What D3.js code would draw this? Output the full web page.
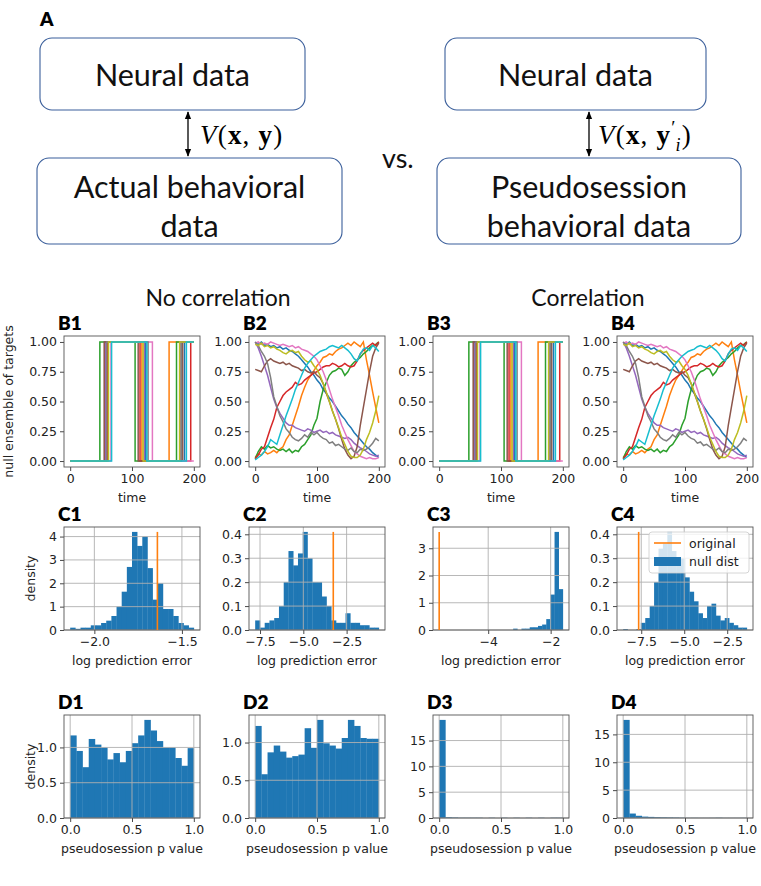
<!DOCTYPE html>
<html><head><meta charset="utf-8">
<script src="https://cdn.jsdelivr.net/npm/d3@7"></script>
<style>body{margin:0;background:#fff} svg{display:block}</style>
</head><body>
<svg id="fig" width="761" height="886"></svg>
<script>
// ================= DATA =================
const traceColors = ["#1f77b4","#ff7f0e","#2ca02c","#d62728","#9467bd","#8c564b","#e377c2","#7f7f7f","#bcbd22","#17becf"];
// B1 / B3 : block-structured targets (time of 1st rise, fall, 2nd rise)
const stepRise1 = [58,56,48,60,57,55,66,59,62,67];
const stepFall1 = [122,116,105,113,120,110,133,126,118,124];
const stepRise2 = [185,160,172,195,178,182,205,180,177,188];
// B2 / B4 : smooth pseudo-session targets, sampled every 5 time steps
const walkBlue   = [0.99,0.98,1.0,0.97,0.98,0.96,0.97,0.95,0.96,0.94,0.95,0.93,0.92,0.9,0.88,0.85,0.82,0.79,0.75,0.72,0.68,0.65,0.6,0.57,0.53,0.5,0.46,0.42,0.38,0.35,0.31,0.28,0.24,0.21,0.18,0.15,0.12,0.1,0.07,0.05,0.03];
const walkOrange = [0.03,0.06,0.05,0.08,0.06,0.07,0.09,0.07,0.1,0.12,0.18,0.22,0.3,0.38,0.46,0.55,0.62,0.68,0.72,0.76,0.8,0.83,0.87,0.88,0.9,0.89,0.92,0.94,0.95,0.97,0.99,0.97,1.0,0.98,0.96,1.0,0.85,0.72,0.58,0.45,0.32];
const walkGreen  = [0.02,0.08,0.12,0.1,0.13,0.11,0.12,0.1,0.09,0.1,0.08,0.1,0.07,0.09,0.08,0.12,0.14,0.18,0.22,0.3,0.36,0.5,0.6,0.66,0.72,0.75,0.76,0.78,0.77,0.72,0.75,0.8,0.83,0.85,0.87,0.9,0.92,0.95,0.97,0.98,1.0];
const walkRed    = [0.02,0.05,0.1,0.12,0.2,0.28,0.35,0.45,0.5,0.55,0.58,0.6,0.62,0.66,0.64,0.65,0.68,0.7,0.72,0.74,0.75,0.77,0.79,0.8,0.8,0.82,0.81,0.79,0.8,0.82,0.8,0.79,0.8,0.84,0.9,0.93,0.95,0.97,0.99,0.97,1.0];
const walkPurple = [1.0,0.95,0.88,0.8,0.72,0.62,0.52,0.45,0.4,0.36,0.32,0.3,0.3,0.28,0.27,0.26,0.25,0.27,0.26,0.24,0.25,0.26,0.24,0.25,0.23,0.24,0.22,0.21,0.2,0.19,0.2,0.18,0.15,0.13,0.11,0.1,0.08,0.06,0.05,0.04,0.05];
const walkBrown  = [0.77,0.76,0.75,0.8,0.84,0.86,0.84,0.83,0.82,0.83,0.81,0.82,0.8,0.79,0.78,0.76,0.77,0.75,0.74,0.75,0.72,0.7,0.65,0.57,0.5,0.42,0.35,0.27,0.18,0.1,0.05,0.02,0.04,0.12,0.3,0.45,0.6,0.75,0.88,0.95,0.99];
const walkPink   = [0.99,1.0,0.98,0.99,0.98,1.0,0.99,0.98,0.97,0.98,0.97,0.96,0.97,0.95,0.96,0.94,0.93,0.92,0.9,0.88,0.85,0.8,0.75,0.68,0.6,0.52,0.45,0.38,0.3,0.24,0.18,0.13,0.08,0.06,0.04,0.03,0.02,0.03,0.02,0.02,0.03];
const walkGray   = [1.0,0.97,0.92,0.88,0.82,0.7,0.54,0.46,0.38,0.33,0.27,0.24,0.2,0.18,0.17,0.19,0.22,0.2,0.24,0.22,0.24,0.21,0.19,0.18,0.15,0.16,0.13,0.14,0.12,0.1,0.09,0.11,0.08,0.07,0.1,0.09,0.1,0.12,0.15,0.19,0.17];
const walkOlive  = [0.98,0.97,0.99,0.96,0.97,0.95,0.96,0.94,0.93,0.91,0.9,0.92,0.93,0.91,0.92,0.88,0.85,0.83,0.84,0.8,0.77,0.72,0.65,0.58,0.5,0.42,0.35,0.28,0.2,0.14,0.08,0.04,0.03,0.03,0.05,0.1,0.18,0.24,0.32,0.42,0.55];
const walkCyan   = [0.01,0.03,0.05,0.08,0.12,0.18,0.16,0.14,0.22,0.3,0.38,0.45,0.52,0.6,0.66,0.72,0.78,0.82,0.85,0.88,0.9,0.92,0.93,0.94,0.96,0.97,0.96,0.95,0.97,0.95,0.93,0.9,0.86,0.84,0.9,0.94,0.95,0.93,0.97,0.95,0.92];
const walks = [walkBlue,walkOrange,walkGreen,walkRed,walkPurple,walkBrown,walkPink,walkGray,walkOlive,walkCyan];

// C row: null distributions of log prediction error (density) + original value
const c1Range = [-2.138, -1.432];
const c1Density = [0.1,0.05,0.1,0.1,0.2,0.2,0.3,0.4,0.6,1.0,1.64,2.7,4.2,3.6,4.0,2.65,1.3,2.0,0.9,0.9,0.6,0.3,0.2,0.1];
const c1Original = -1.64;
const c2Range = [-7.78, -0.64];
const c2Density = [0.04,0.01,0.03,0.04,0.05,0.1,0.2,0.33,0.27,0.32,0.41,0.3,0.2,0.2,0.14,0.1,0.04,0.03,0.03,0.07,0.03,0.03,0.02,0.02,0.01,0.01];
const c2Original = -3.27;
const c3Range = [-3.2, -1.61];
const c3Density = [0.05,0,0.05,0.05,0.1,0.1,0.15,0.2,0.4,1.3,3.6,1.5];
const c3Original = -5.57;
const c4Range = [-8.55, -1.36];
const c4Density = [0.004,0,0,0.004,0.03,0.05,0.1,0.2,0.34,0.36,0.41,0.33,0.28,0.3,0.22,0.16,0.12,0.07,0.05,0.1,0.11,0.06,0.04,0.05,0.03,0.02,0.01,0.01];
const c4Original = -7.65;

// D row: pseudosession p values (density, 20 bins on [0,1])
const pRange = [0, 1];
const d1Density = [1.17,0.95,0.72,1.12,1.04,1.0,0.83,0.92,0.79,0.95,1.06,1.17,1.39,1.24,1.09,1.0,1.0,0.85,0.74,0.99];
const d2Density = [1.22,0.58,0.87,0.96,0.88,0.8,0.82,0.84,1.19,0.93,1.3,0.99,0.96,0.92,1.06,1.3,1.22,1.06,1.05,1.05];
const d3Density = [19.0,0.15,0.1,0.05,0.05,0.05,0.05,0.0,0.05,0.0,0.05,0.0,0.05,0.0,0.05,0.0,0.05,0.0,0.05,0.05];
const d4Density = [17.6,0.8,0.4,0.25,0.2,0.15,0.12,0.1,0.08,0.05,0.02,0.03,0.02,0.02,0.03,0.05,0.02,0.02,0.02,0.03];

// tick labels
const bXTicks = [0,100,200];
const bYTicks = [0,0.25,0.5,0.75,1.0];
const c1XTicks = [-2.0,-1.5], c1YTicks = [0,1,2,3,4];
const c2XTicks = [-7.5,-5.0,-2.5], c2YTicks = [0,0.1,0.2,0.3,0.4];
const c3XTicks = [-4,-2], c3YTicks = [0,1,2,3];
const c4XTicks = [-7.5,-5.0,-2.5], c4YTicks = [0,0.1,0.2,0.3,0.4];
const dXTicks = [0,0.5,1.0];
const d12YTicks = [0,0.5,1.0], d34YTicks = [0,5,10,15];

// ================= DRAWING =================
const svg = d3.select("#fig");
const TF = "DejaVu Sans", TS = 12.5;
const HF = "Lato";
const axLeft = [64, 249, 433, 617], axW = 136;
const rowB = {top:336, h:131}, rowC = {top:527, h:103}, rowD = {top:715, h:103};
const BLUE = "#1f77b4", ORANGE = "#ff7f0e";

// ---------- Panel A diagram ----------
svg.append("text").attr("x",40).attr("y",26).attr("font-family",HF).attr("font-weight",800).attr("font-size",19).text("A");
const boxStroke = "#3b5f9b";
function box(x,y,w,h,lines,cy){
  svg.append("rect").attr("x",x).attr("y",y).attr("width",w).attr("height",h).attr("rx",12).attr("ry",12)
    .attr("fill","#fff").attr("stroke",boxStroke).attr("stroke-width",1.1);
  lines.forEach((t,i)=>svg.append("text").attr("x",x+w/2).attr("y",cy[i]).attr("text-anchor","middle")
    .attr("font-family",HF).attr("font-size",30.5).attr("fill","#111").text(t));
}
box(40,38,265,72,["Neural data"],[86]);
box(37,158,305,86,["Actual behavioral","data"],[198,237]);
box(445,38,261,72,["Neural data"],[86]);
box(437,158,304,86,["Pseudosession","behavioral data"],[198,237]);

const defs = svg.append("defs");
defs.append("marker").attr("id","ah").attr("viewBox","0 0 10 10").attr("refX",9).attr("refY",5)
  .attr("markerWidth",6).attr("markerHeight",6).attr("orient","auto-start-reverse")
  .append("path").attr("d","M0,1 L10,5 L0,9 z").attr("fill","#000");
[188,589].forEach(x=>{
  svg.append("line").attr("x1",x).attr("x2",x).attr("y1",112).attr("y2",156).attr("stroke","#000").attr("stroke-width",1.3)
    .attr("marker-start","url(#ah)").attr("marker-end","url(#ah)");
});
const MF = "Liberation Serif";
function mathV(x,y,prime){
  const t = svg.append("text").attr("x",x).attr("y",y).attr("font-family",MF).attr("font-size",27).attr("fill","#000").attr("letter-spacing",1.2);
  t.append("tspan").attr("font-style","italic").text("V");
  t.append("tspan").text("(");
  t.append("tspan").attr("font-weight","bold").text("x");
  t.append("tspan").text(", ");
  t.append("tspan").attr("font-weight","bold").text("y");
  if(prime){
    t.append("tspan").attr("font-size",19).attr("dy",-10).text("′");
    t.append("tspan").attr("font-size",18).attr("font-style","italic").attr("dx",-1).attr("dy",17).text("i");
    t.append("tspan").attr("dy",-7).text(")");
  } else t.append("tspan").text(")");
}
mathV(200,144,false);
mathV(598,144,true);
svg.append("text").attr("x",382).attr("y",168).attr("font-family",HF).attr("font-size",27).attr("fill","#111").text("vs.");

svg.append("text").attr("x",218).attr("y",306).attr("text-anchor","middle").attr("font-family",HF).attr("font-size",23).attr("fill","#111").text("No correlation");
svg.append("text").attr("x",588).attr("y",306).attr("text-anchor","middle").attr("font-family",HF).attr("font-size",23).attr("fill","#111").text("Correlation");

// ---------- helpers ----------
function styleAxis(g){
  g.select(".domain").remove();
  g.selectAll(".tick line").attr("stroke","#333").attr("stroke-width",0.9);
  g.selectAll(".tick text").attr("font-family",TF).attr("font-size",TS).attr("fill","#222");
}
function panel(col,row,label){
  const g = svg.append("g").attr("transform",`translate(${axLeft[col]},${row.top})`);
  svg.append("text").attr("x",axLeft[col]-6).attr("y",row.top-6).attr("font-family",HF).attr("font-weight",800)
    .attr("font-size",19).attr("fill","#000").text(label);
  return g;
}
function finish(g,x,y,xt,yt,xfmt,yfmt,h,grid,xlabel,ylabel){
  if(grid){
    const gg = g.append("g");
    xt.forEach(v=>gg.append("line").attr("x1",x(v)).attr("x2",x(v)).attr("y1",0).attr("y2",h).attr("stroke","#b0b0b0").attr("stroke-width",0.9));
    yt.forEach(v=>gg.append("line").attr("x1",0).attr("x2",axW).attr("y1",y(v)).attr("y2",y(v)).attr("stroke","#b0b0b0").attr("stroke-width",0.9));
  }
  g.append("g").attr("transform",`translate(0,${h})`).call(d3.axisBottom(x).tickValues(xt).tickFormat(xfmt).tickSize(4).tickPadding(3)).call(styleAxis);
  g.append("g").call(d3.axisLeft(y).tickValues(yt).tickFormat(yfmt).tickSize(4).tickPadding(3)).call(styleAxis);
  g.append("rect").attr("width",axW).attr("height",h).attr("fill","none").attr("stroke","#555").attr("stroke-width",0.9);
  if(xlabel) g.append("text").attr("x",axW/2).attr("y",h+35).attr("text-anchor","middle").attr("font-family",TF).attr("font-size",TS).attr("fill","#222").text(xlabel);
  if(ylabel) g.append("text").attr("transform",`translate(${ylabel[1]},${h/2}) rotate(-90)`).attr("text-anchor","middle").attr("font-family",TF).attr("font-size",TS).attr("fill","#222").text(ylabel[0]);
}

// ---------- B row ----------
function stepPanel(col,label,ylab){
  const g = panel(col,rowB,label);
  const x = d3.scaleLinear().domain([-10,210]).range([0,axW]);
  const y = d3.scaleLinear().domain([-0.05,1.05]).range([rowB.h,0]);
  const line = d3.line().x(d=>x(d[0])).y(d=>y(d[1]));
  stepRise1.forEach((r1,i)=>{
    const f1 = stepFall1[i], r2 = stepRise2[i];
    const pts = [[0,0],[r1,0],[r1,1],[f1,1],[f1,0]];
    if(r2<200){ pts.push([r2,0],[r2,1],[200,1]); } else pts.push([200,0]);
    g.append("path").attr("d",line(pts)).attr("fill","none").attr("stroke",traceColors[i]).attr("stroke-width",1.5);
  });
  finish(g,x,y,bXTicks,bYTicks,d3.format("d"),d3.format(".2f"),rowB.h,false,"time",ylab);
}
function walkPanel(col,label){
  const g = panel(col,rowB,label);
  const x = d3.scaleLinear().domain([-10,210]).range([0,axW]);
  const y = d3.scaleLinear().domain([-0.05,1.05]).range([rowB.h,0]);
  walks.forEach((w,i)=>{
    const line = d3.line().x((d,j)=>x(j*200/(w.length-1))).y(d=>y(d));
    g.append("path").attr("d",line(w)).attr("fill","none").attr("stroke",traceColors[i]).attr("stroke-width",1.5);
  });
  finish(g,x,y,bXTicks,bYTicks,d3.format("d"),d3.format(".2f"),rowB.h,false,"time",null);
}
stepPanel(0,"B1",["null ensemble of targets",-51]);
walkPanel(1,"B2");
stepPanel(2,"B3",null);
walkPanel(3,"B4");

// ---------- C & D rows (histograms) ----------
function histPanel(col,row,label,range,dens,orig,xt,yt,xfmt,yfmt,xlabel,ylab,legend){
  const g = panel(col,row,label);
  const lo = orig==null? range[0] : Math.min(range[0],orig);
  const hi = orig==null? range[1] : Math.max(range[1],orig);
  const m = (hi-lo)*0.05;
  const x = d3.scaleLinear().domain([lo-m,hi+m]).range([0,axW]);
  const y = d3.scaleLinear().domain([0,d3.max(dens)*1.05]).range([row.h,0]);
  const bw = (range[1]-range[0])/dens.length;
  g.selectAll("rect.bar").data(dens).join("rect").attr("class","bar")
    .attr("x",(d,i)=>x(range[0]+i*bw)).attr("width",(d,i)=>x(range[0]+(i+1)*bw)-x(range[0]+i*bw)+0.3)
    .attr("y",d=>y(d)).attr("height",d=>row.h-y(d)).attr("fill",BLUE);
  finish(g,x,y,xt,yt,xfmt,yfmt,row.h,true,xlabel,ylab);
  if(orig!=null) g.append("line").attr("x1",x(orig)).attr("x2",x(orig)).attr("y1",y(d3.max(dens)*1.0)).attr("y2",row.h).attr("stroke",ORANGE).attr("stroke-width",1.6);
  if(legend){
    const L = g.append("g").attr("transform",`translate(${axW-104},5)`);
    L.append("rect").attr("width",100).attr("height",41).attr("rx",3).attr("fill","#fff").attr("fill-opacity",0.8).attr("stroke","#ccc").attr("stroke-width",0.8);
    L.append("line").attr("x1",5).attr("x2",32).attr("y1",11).attr("y2",11).attr("stroke",ORANGE).attr("stroke-width",1.6);
    L.append("rect").attr("x",5).attr("y",25).attr("width",27).attr("height",9).attr("fill",BLUE);
    L.append("text").attr("x",40).attr("y",15.5).attr("font-family",TF).attr("font-size",TS).attr("fill","#222").text("original");
    L.append("text").attr("x",40).attr("y",34).attr("font-family",TF).attr("font-size",TS).attr("fill","#222").text("null dist");
  }
}
const f1 = d3.format(".1f"), fd = d3.format("d");
histPanel(0,rowC,"C1",c1Range,c1Density,c1Original,c1XTicks,c1YTicks,f1,fd,"log prediction error",["density",-29],false);
histPanel(1,rowC,"C2",c2Range,c2Density,c2Original,c2XTicks,c2YTicks,f1,f1,"log prediction error",null,false);
histPanel(2,rowC,"C3",c3Range,c3Density,c3Original,c3XTicks,c3YTicks,fd,fd,"log prediction error",null,false);
histPanel(3,rowC,"C4",c4Range,c4Density,c4Original,c4XTicks,c4YTicks,f1,f1,"log prediction error",null,true);
histPanel(0,rowD,"D1",pRange,d1Density,null,dXTicks,d12YTicks,f1,f1,"pseudosession p value",["density",-29],false);
histPanel(1,rowD,"D2",pRange,d2Density,null,dXTicks,d12YTicks,f1,f1,"pseudosession p value",null,false);
histPanel(2,rowD,"D3",pRange,d3Density,null,dXTicks,d34YTicks,f1,fd,"pseudosession p value",null,false);
histPanel(3,rowD,"D4",pRange,d4Density,null,dXTicks,d34YTicks,f1,fd,"pseudosession p value",null,false);
</script>
</body></html>
